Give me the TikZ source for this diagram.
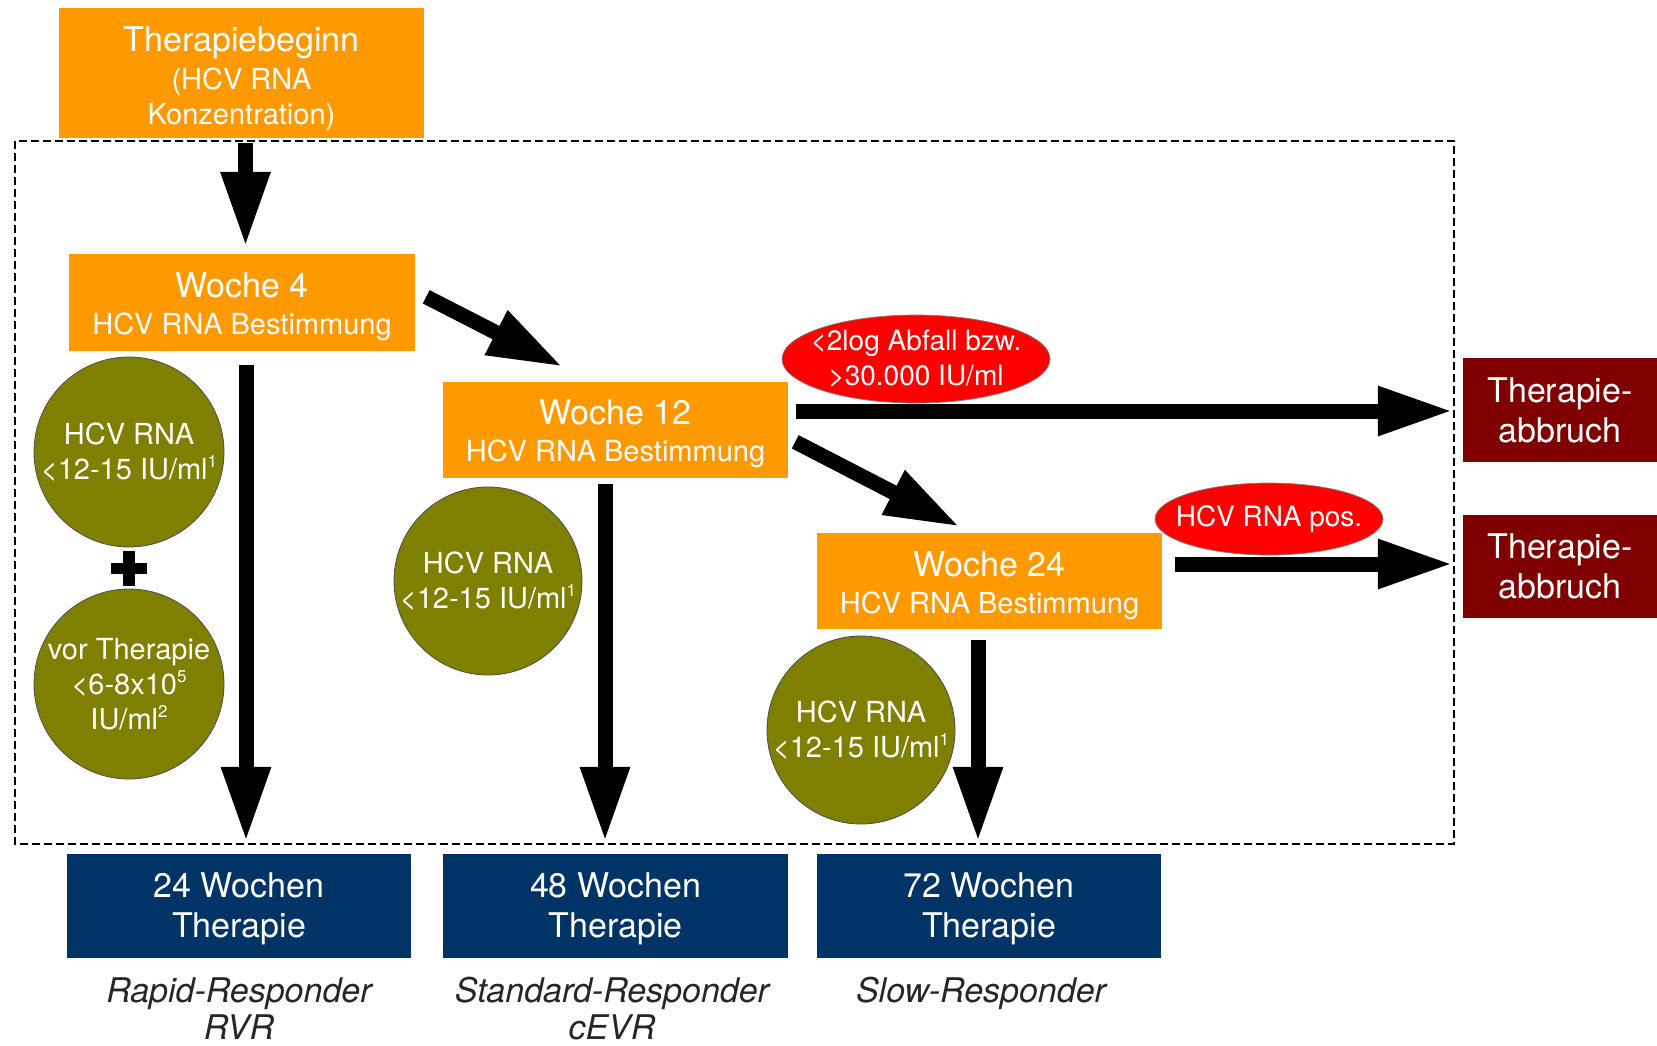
\documentclass[tikz,border=0pt]{standalone}
\usepackage{fontspec}
\setmainfont{TeX Gyre Heros}
\usetikzlibrary{arrows.meta,shapes.geometric,calc}
\definecolor{orng}{HTML}{FF9900}
\definecolor{olv}{HTML}{808000}
\definecolor{mrn}{HTML}{800000}
\definecolor{nvy}{HTML}{003366}
\definecolor{rd}{HTML}{FF0000}
\newcommand{\sups}[1]{\raisebox{0.8ex}{\fontsize{17}{17}\selectfont #1}}
\newcommand{\bigline}[2]{{\fontsize{34}{40}\selectfont\rule{0pt}{#1}#2}}
\begin{document}
\begin{tikzpicture}[x=1pt,y=-1pt,
  box/.style={rectangle, inner sep=0pt, text=white, align=center},
  obox/.style={box, fill=orng, minimum width=346pt, minimum height=97pt, font=\fontsize{29}{37}\selectfont},
  nbox/.style={box, fill=nvy, minimum width=344pt, minimum height=104pt, font=\fontsize{34}{40}\selectfont},
  mbox/.style={box, fill=mrn, minimum width=194pt, minimum height=104pt, font=\fontsize{34}{40}\selectfont},
  crc/.style={circle, fill=olv, draw=black!70, line width=0.8pt, inner sep=0pt, minimum size=190pt, text=white, align=center, font=\fontsize{29}{35}\selectfont},
  ell/.style={ellipse, fill=rd, draw=black!50, line width=0.7pt, inner ysep=0pt, text=white, align=center, font=\fontsize{28}{35}\selectfont},
  lbl/.style={align=center, text=black!85, font=\fontsize{34}{37}\selectfont\itshape},
  bigarrow/.style={line width=15pt, -{Triangle[length=75pt,width=46pt]}},
  frame/.style={line width=2.5pt, dash pattern=on 8pt off 4pt}
]
\useasboundingbox (0,0) rectangle (1657,1045);
\fill[white] (0,0) rectangle (1657,1045);

% dashed frame
\draw[frame] (15,141) rectangle (1454,844);

% boxes
\node[box, fill=orng, minimum width=365pt, minimum height=130pt, font=\fontsize{29}{35}\selectfont] (tb) at (241.5,73)
  {\bigline{37pt}{Therapiebeginn}\\[3pt](HCV RNA\\Konzentration)};
\node[obox] (w4) at (242,302.5) {\bigline{33pt}{Woche 4}\\HCV RNA Bestimmung};
\node[obox, minimum width=345pt, minimum height=96pt] (w12) at (615.5,430) {\bigline{33pt}{Woche 12}\\HCV RNA Bestimmung};
\node[obox, minimum width=345pt, minimum height=96pt] (w24) at (989.5,581) {\bigline{34pt}{Woche 24}\\HCV RNA Bestimmung};

\node[mbox] (ta1) at (1560,410) {Therapie-\\abbruch};
\node[mbox, minimum height=103pt] (ta2) at (1560,566.5) {Therapie-\\abbruch};

\node[nbox] (b24) at (239,906) {\bigline{31pt}{24 Wochen}\\Therapie};
\node[nbox, minimum width=345pt] (b48) at (615.5,906) {\bigline{31pt}{48 Wochen}\\Therapie};
\node[nbox] (b72) at (989,906) {\bigline{31pt}{72 Wochen}\\Therapie};

\node[lbl] (l1) at (239,1009) {Rapid-Responder\\RVR};
\node[lbl] (l2) at (612,1009) {Standard-Responder\\cEVR};
\node[lbl] (l3) at (981,993) {Slow-Responder};

% circles
\node[crc] (c1) at (129,452) {HCV RNA\\<12-15 IU/ml\sups{1}};
\node[crc] (c2) at (129,684) {vor Therapie\\<6-8x10\sups{5}\\IU/ml\sups{2}};
\node[crc, minimum size=188pt] (c3) at (488,581) {HCV RNA\\<12-15 IU/ml\sups{1}};
\node[crc, minimum size=188pt] (c4) at (861,730) {HCV RNA\\<12-15 IU/ml\sups{1}};

% plus sign
\coordinate (pl) at ($(c1.south)!0.5!(c2.north)$);
\draw[line width=11pt] ($(pl)+(-18,0)$) -- ($(pl)+(18,0)$);
\draw[line width=12pt] ($(pl)+(0,-17)$) -- ($(pl)+(0,18)$);

% arrows
\draw[bigarrow, shorten <=5pt, shorten >=7pt] ([xshift=4pt]tb.south) -- ([xshift=4pt]tb.south |- w4.north);
\draw[bigarrow, shorten <=14pt, shorten >=12pt] ([xshift=4pt]w4.south) -- ([xshift=4pt]w4.south |- b24.north);
\draw[bigarrow, shorten <=6pt, shorten >=12pt] ([xshift=-10.5pt]w12.south) -- ([xshift=-10.5pt]w12.south |- b48.north);
\draw[bigarrow, shorten <=11pt, shorten >=12pt] ([xshift=-11.5pt]w24.south) -- ([xshift=-11.5pt]w24.south |- b72.north);

\draw[bigarrow] ($(w4.north east)+(11,43)$) -- ($(w12.north west)+(120,-15)$);
\draw[bigarrow] ($(w12.north east)+(7,60)$) -- ($(w24.north west)+(143,-6)$);

\draw[bigarrow, shorten <=8pt, shorten >=10pt] ([yshift=19pt]w12.east) -- ([yshift=19pt]w12.east -| ta1.west);
\draw[bigarrow, shorten <=13pt, shorten >=10pt] ([yshift=17pt]w24.east) -- ([yshift=17pt]w24.east -| ta2.west);

% red ellipses
\node[ell, inner xsep=-17pt, inner ysep=-2pt, minimum width=268pt, minimum height=88pt] (e1) at (916,359) {<2log Abfall bzw.\\>30.000 IU/ml};
\node[ell, inner xsep=-17pt, minimum width=228pt, minimum height=72pt] (e2) at (1269,519) {HCV RNA pos.};
\end{tikzpicture}
\end{document}
